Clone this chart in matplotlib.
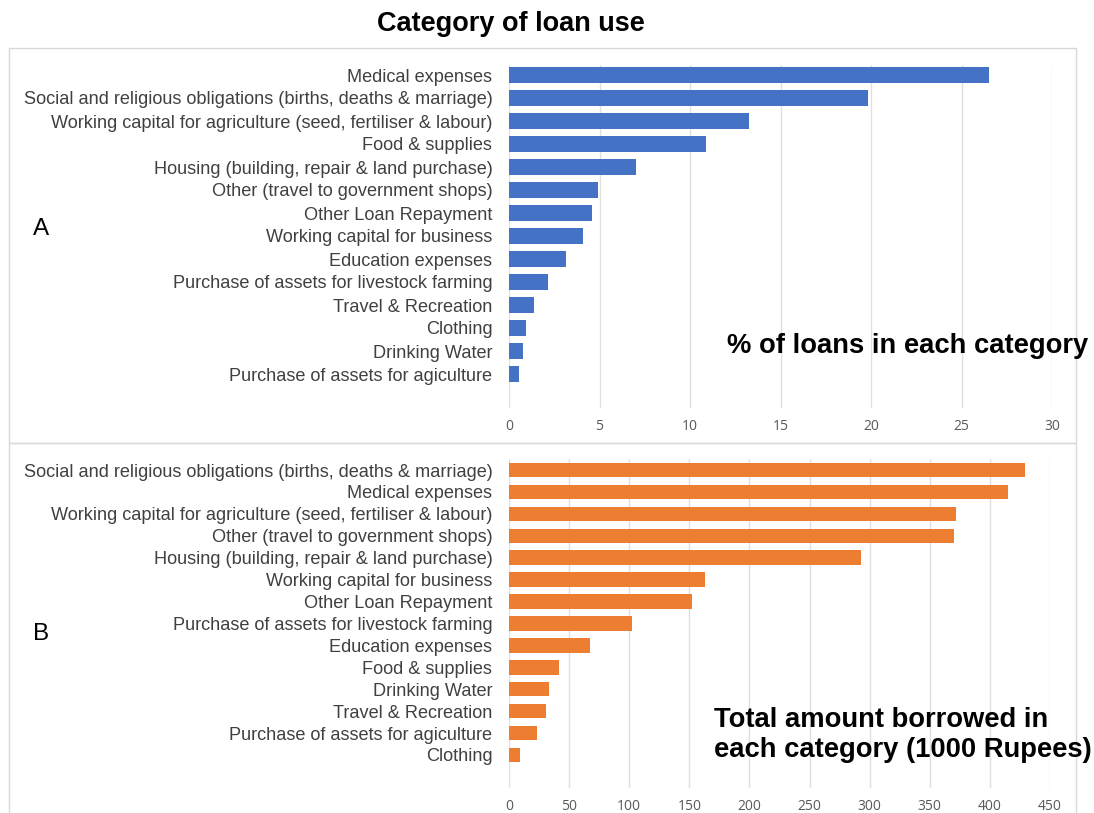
import matplotlib
matplotlib.use('Agg')
import matplotlib.pyplot as plt
from matplotlib.patches import Rectangle

# P A R A M E T E R S  ---------------------------------------------------------

cats_pct = ['Medical expenses',
            'Social and religious obligations (births, deaths & marriage)',
            'Working capital for agriculture (seed, fertiliser & labour)',
            'Food & supplies',
            'Housing (building, repair & land purchase)',
            'Other (travel to government shops)',
            'Other Loan Repayment',
            'Working capital for business',
            'Education expenses',
            'Purchase of assets for livestock farming',
            'Travel & Recreation',
            'Clothing',
            'Drinking Water',
            'Purchase of assets for agiculture']
pct_loans = [26.5, 19.85, 13.25, 10.9, 7.0, 4.92, 4.58, 4.07, 3.15, 2.13, 1.37, 0.95, 0.78, 0.53]

cats_amt = ['Social and religious obligations (births, deaths & marriage)',
            'Medical expenses',
            'Working capital for agriculture (seed, fertiliser & labour)',
            'Other (travel to government shops)',
            'Housing (building, repair & land purchase)',
            'Working capital for business',
            'Other Loan Repayment',
            'Purchase of assets for livestock farming',
            'Education expenses',
            'Food & supplies',
            'Drinking Water',
            'Travel & Recreation',
            'Purchase of assets for agiculture',
            'Clothing']
amt_borrowed = [429, 415, 372, 370.5, 293, 163, 152, 102.5, 67, 41.5, 33.5, 31, 23.5, 9.5]

ticks_pct = [0, 5, 10, 15, 20, 25, 30]
ticks_amt = [0, 50, 100, 150, 200, 250, 300, 350, 400, 450]

BLUE = '#4472C4'
ORANGE = '#ED7D31'
W, H = 1094, 813

# P A R A M E T E R S  E N D ---------------------------------------------------

plt.rcParams['font.family'] = ['Liberation Sans', 'DejaVu Sans']

fig = plt.figure(figsize=(W / 100, H / 100), dpi=100)


def px(x0, y0, x1, y1):
    # pixel box (top-left origin) -> figure fraction rect
    return [x0 / W, 1 - y1 / H, (x1 - x0) / W, (y1 - y0) / H]


# panel frames
for y0, y1 in [(48, 443), (443, 830)]:
    fig.patches.append(Rectangle((9 / W, 1 - y1 / H), (1076 - 9) / W, (y1 - y0) / H,
                                 transform=fig.transFigure, fill=False,
                                 edgecolor='#d9d9d9', lw=1))


def panel(rect, cats, vals, ticks, color, top_px, step_px, bot_px):
    ax = fig.add_axes(rect)
    n = len(cats)
    pos = list(range(n))
    ax.barh(pos, vals, height=0.66, color=color, zorder=3)
    ax.set_xlim(ticks[0], ticks[-1])
    ax.set_ylim(n - 1 + bot_px / step_px, -top_px / step_px)
    ax.set_xticks(ticks)
    ax.set_xticklabels([str(t) for t in ticks], fontsize=10, color='#595959',
                       family=['Open Sans', 'DejaVu Sans'])
    ax.set_yticks(pos)
    ax.set_yticklabels(cats, fontsize=13.1, color='#404040')
    ax.tick_params(axis='both', length=0)
    ax.tick_params(axis='x', pad=8)
    ax.tick_params(axis='y', pad=12)
    ax.grid(axis='x', color='#e0e0e0', lw=1, zorder=0)
    for s in ax.spines.values():
        s.set_visible(False)
    return ax


panel(px(509, 65, 1052, 408), cats_pct, pct_loans, ticks_pct, BLUE, 10, 23.0, 34)
panel(px(509, 459, 1050, 788), cats_amt, amt_borrowed, ticks_amt, ORANGE, 11, 21.9, 33)

fig.text(511 / W, 1 - 24 / H, 'Category of loan use', ha='center', va='center',
         fontsize=19.5, fontweight='bold')
fig.text(33 / W, 1 - 229 / H, 'A', ha='left', va='center', fontsize=17.5)
fig.text(33 / W, 1 - 634 / H, 'B', ha='left', va='center', fontsize=17.5)
fig.text(727 / W, 1 - 346 / H, '% of loans in each category', ha='left', va='center',
         fontsize=19.7, fontweight='bold')
fig.text(714 / W, 1 - 735 / H, 'Total amount borrowed in\neach category (1000 Rupees)',
         ha='left', va='center', fontsize=19.7, fontweight='bold', linespacing=1.22)

fig.savefig('out.png', dpi=100)
